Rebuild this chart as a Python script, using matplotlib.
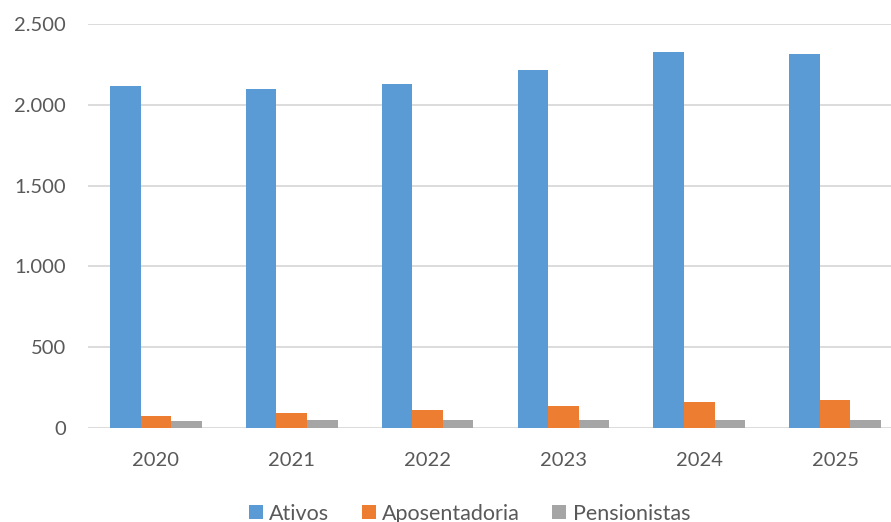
import matplotlib
matplotlib.use("Agg")
import matplotlib.pyplot as plt
import matplotlib.ticker as mticker
import numpy as np

# ----- dados -----
anos = ["2020", "2021", "2022", "2023", "2024", "2025"]
ativos = [2116, 2096, 2131, 2215, 2327, 2312]
aposentadoria = [76, 95, 111, 138, 163, 175]
pensionistas = [43, 51, 51, 51, 51, 47]

series = [
    ("Ativos", ativos, "#5B9BD5"),
    ("Aposentadoria", aposentadoria, "#ED7D31"),
    ("Pensionistas", pensionistas, "#A5A5A5"),
]

plt.rcParams["font.family"] = ["Lato", "DejaVu Sans"]

fig = plt.figure(figsize=(8.91, 5.22), dpi=100)
# a area do grafico passa um pouco da borda direita (recorte original)
ax = fig.add_axes([88 / 891, 1 - 428 / 522, 815 / 891, 404 / 522])

x = np.arange(len(anos))
largura = 0.225
for i, (nome, valores, cor) in enumerate(series):
    ax.bar(x + (i - 1) * largura, valores, largura, color=cor, label=nome, zorder=3)

ax.set_xlim(-0.5, len(anos) - 0.5)
ax.set_ylim(0, 2500)
ax.yaxis.set_major_locator(mticker.MultipleLocator(500))
ax.yaxis.set_major_formatter(mticker.FuncFormatter(lambda v, _: f"{int(v):,}".replace(",", ".")))
ax.grid(axis="y", color="#D9D9D9", linewidth=1.3, zorder=0)
ax.set_xticks(x)
ax.set_xticklabels(anos)
for s in ax.spines.values():
    s.set_visible(False)
ax.tick_params(axis="both", length=0, labelsize=14.5, colors="#595959")
ax.tick_params(axis="x", pad=17)
ax.tick_params(axis="y", pad=16)

leg = fig.legend(loc="lower center", ncol=3, bbox_to_anchor=(469.5 / 891, -0.04),
                 frameon=False, fontsize=15.5, handlelength=0.65, handleheight=0.65,
                 handletextpad=0.3, columnspacing=1.5)
for t in leg.get_texts():
    t.set_color("#595959")

fig.savefig("out.png", dpi=100)
